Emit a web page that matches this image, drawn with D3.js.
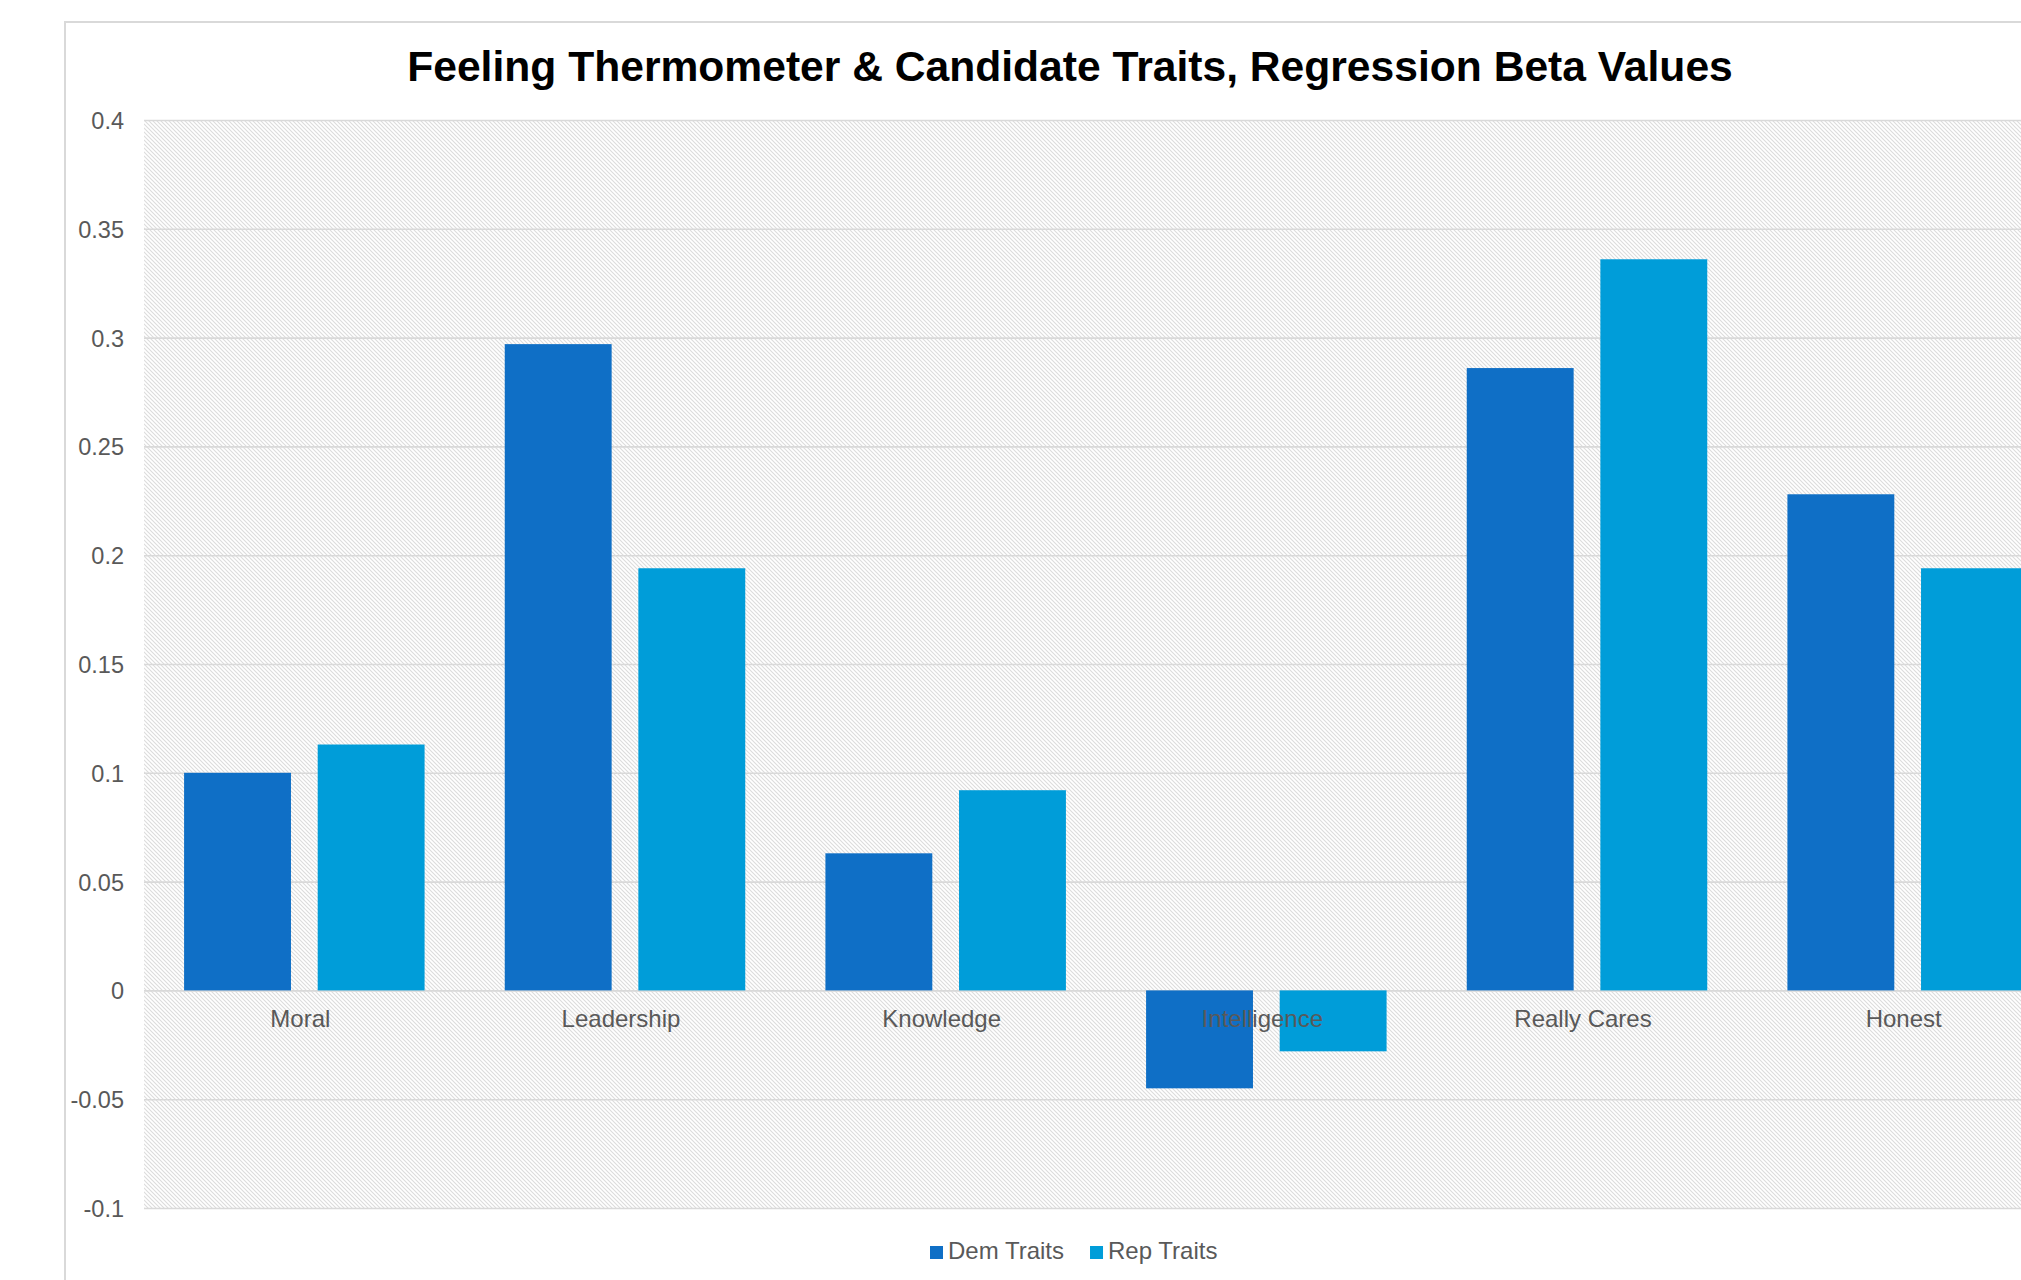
<!DOCTYPE html>
<html>
<head>
<meta charset="utf-8">
<script src="https://cdn.jsdelivr.net/npm/d3@7"></script>
<style>
	body { margin: 0; background: #fff; }
	svg { display: block; font-family: "Liberation Sans", Arial, sans-serif; }
</style>
</head>
<body>
<svg width="2021" height="1280"></svg>
<script>
const categories = ["Moral", "Leadership", "Knowledge", "Intelligence", "Really Cares", "Honest"]
const series = ["Dem Traits", "Rep Traits"]
const demValues = [0.100, 0.297, 0.063, -0.045, 0.286, 0.228]
const repValues = [0.113, 0.194, 0.092, -0.028, 0.336, 0.194]
const yTicks = [-0.1, -0.05, 0, 0.05, 0.1, 0.15, 0.2, 0.25, 0.3, 0.35, 0.4]
const colors = ["#0F6FC6", "#009DD9"]
const title = "Feeling Thermometer & Candidate Traits, Regression Beta Values"

// the chart is wider than the window, its right side is cut off
const plot = {left: 144, right: 2068, top: 120, bottom: 1208}
const grey = "#595959"
const rule = "#d9d9d9"

const svg = d3.select("svg")

const rows = categories.map((c, i) => ({cat: c, values: [demValues[i], repValues[i]]}))

// hatch used by the plot area
const pat = svg.append("defs").append("pattern")
	.attr("id", "hatch")
	.attr("patternUnits", "userSpaceOnUse")
	.attr("width", 4)
	.attr("height", 4)
pat.append("rect").attr("width", 4).attr("height", 4).attr("fill", "#fff")
pat.append("path")
	.attr("d", "M-1,-1L5,5M-1,3L1,5M3,-1L5,1")
	.attr("stroke", "#dcdcdc")
	.attr("stroke-width", 1.1)

// chart frame
svg.append("rect")
	.attr("x", 65)
	.attr("y", 22)
	.attr("width", 2200)
	.attr("height", 1500)
	.attr("fill", "#fff")
	.attr("stroke", rule)
	.attr("stroke-width", 2)

const x0 = d3.scaleBand().domain(categories).range([plot.left, plot.right])
const x1 = d3.scaleBand().domain(series).range([0, x0.bandwidth()]).paddingInner(0.2).paddingOuter(0.3)
const y = d3.scaleLinear().domain([-0.1, 0.4]).range([plot.bottom, plot.top])

svg.append("rect")
	.attr("x", plot.left)
	.attr("y", plot.top)
	.attr("width", plot.right - plot.left)
	.attr("height", plot.bottom - plot.top)
	.attr("fill", "url(#hatch)")

// gridlines + tick labels
const yAxis = svg.append("g")
	.attr("class", "axis axis--y")
	.attr("transform", "translate(" + plot.left + ",0)")
	.call(d3.axisLeft(y).tickValues(yTicks).tickFormat(d => String(+d.toFixed(2))).tickSize(-(plot.right - plot.left)).tickPadding(20))
yAxis.select(".domain").remove()
yAxis.selectAll(".tick line").attr("stroke", rule).attr("stroke-width", 1.6)
yAxis.selectAll(".tick text")
	.attr("fill", grey)
	.attr("font-size", 23.5)
	.attr("font-family", "Liberation Sans, Arial, sans-serif")
	.attr("dy", "0.36em")

// bars
const groups = svg.append("g").selectAll("g")
	.data(rows)
	.join("g")
	.attr("transform", d => "translate(" + x0(d.cat) + ",0)")
groups.selectAll("rect")
	.data(d => d.values.map((v, i) => ({s: series[i], v: v, i: i})))
	.join("rect")
	.attr("x", d => x1(d.s))
	.attr("width", x1.bandwidth())
	.attr("y", d => y(Math.max(0, d.v)))
	.attr("height", d => Math.abs(y(d.v) - y(0)))
	.attr("fill", d => colors[d.i])

// category labels sit just under the zero line
svg.append("g").selectAll("text")
	.data(categories)
	.join("text")
	.attr("x", d => x0(d) + x0.bandwidth() / 2 - 4)
	.attr("y", y(0) + 37)
	.attr("text-anchor", "middle")
	.attr("font-size", 24)
	.attr("fill", grey)
	.text(d => d)

svg.append("text")
	.attr("x", 1070)
	.attr("y", 81)
	.attr("text-anchor", "middle")
	.attr("font-size", 42.6)
	.attr("font-weight", "bold")
	.attr("fill", "#000")
	.text(title)

// legend
const legend = svg.append("g").attr("transform", "translate(930,1259)")
let lx = 0
series.forEach((s, i) => {
	legend.append("rect")
		.attr("x", lx)
		.attr("y", -13)
		.attr("width", 13)
		.attr("height", 13)
		.attr("fill", colors[i])
	const t = legend.append("text")
		.attr("x", lx + 18)
		.attr("y", 0)
		.attr("font-size", 24)
		.attr("fill", grey)
		.text(s)
	lx += 18 + t.node().getComputedTextLength() + 26
})
</script>
</body>
</html>
